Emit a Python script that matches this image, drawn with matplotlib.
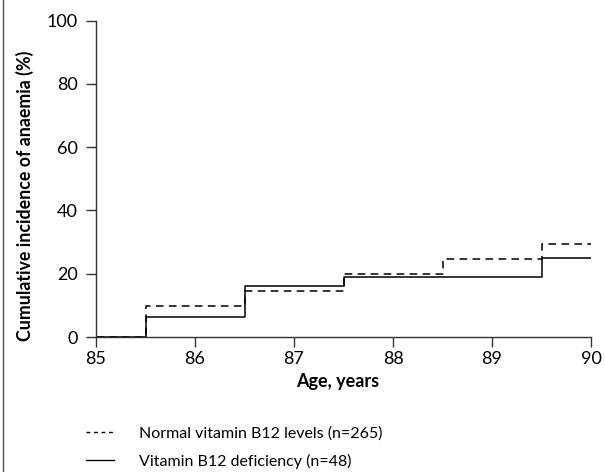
import matplotlib
matplotlib.use("Agg")
import matplotlib.pyplot as plt
from matplotlib.lines import Line2D

plt.rcParams['font.family'] = ['Lato', 'DejaVu Sans']

ages = [85, 85.5, 86.5, 87.5, 88.5, 89.5, 90]
normal = [0, 9.9, 14.6, 20.0, 24.7, 29.3, 29.3]
deficiency = [0, 6.4, 16.1, 18.9, 18.9, 25.0, 25.0]
labels = ["Normal vitamin B12 levels (n=265)", "Vitamin B12 deficiency (n=48)"]
xticks = [85, 86, 87, 88, 89, 90]
yticks = [0, 20, 40, 60, 80, 100]

fig = plt.figure(figsize=(6.05, 4.72), dpi=100)
ax = fig.add_axes([96/605, 1-337/472, (591-96)/605, (337-20.5)/472])

l1, = ax.step(ages, normal, where='post', color='black', lw=1.1, ls=(0, (5, 3.5)))
l2, = ax.step(ages, deficiency, where='post', color='black', lw=1.1)

ax.set_xlim(85, 90)
ax.set_ylim(0, 100)
ax.set_xticks(xticks)
ax.set_yticks(yticks)
for s in ['top', 'right']:
    ax.spines[s].set_visible(False)
for s in ['left', 'bottom']:
    ax.spines[s].set_linewidth(1.0)
    ax.spines[s].set_color('#333333')
ax.tick_params(axis='both', direction='out', length=7, width=1.0, color='#333333',
               labelsize=13, labelcolor='black')
ax.tick_params(axis='y', pad=6)
ax.tick_params(axis='x', pad=3)
ax.set_xlabel("Age, years", fontsize=13, fontweight='bold')
ax.xaxis.set_label_coords((338-96)/495, -(387-337)/316.5)
ax.xaxis.label.set_va('baseline')
ax.set_ylabel("Cumulative incidence of anaemia (%)", fontsize=12.8, fontweight='bold')
ax.yaxis.set_label_coords(-(96-25)/495, (337-196)/316.5)
ax.yaxis.label.set_va('center')

h1 = Line2D([], [], color='black', lw=1.0, ls=(0, (2.8, 2.6)))
h2 = Line2D([], [], color='black', lw=1.0)
leg = fig.legend([h1, h2], labels, loc='upper left', bbox_to_anchor=(80/605, 1-420/472),
                 frameon=False, fontsize=11.5, handlelength=1.75, handletextpad=1.55,
                 labelspacing=0.8, borderaxespad=0)

fig.add_artist(Line2D([3/605, 3/605], [0, 1], transform=fig.transFigure, color='#555555', lw=1.0))

fig.savefig("out.png", dpi=100)
